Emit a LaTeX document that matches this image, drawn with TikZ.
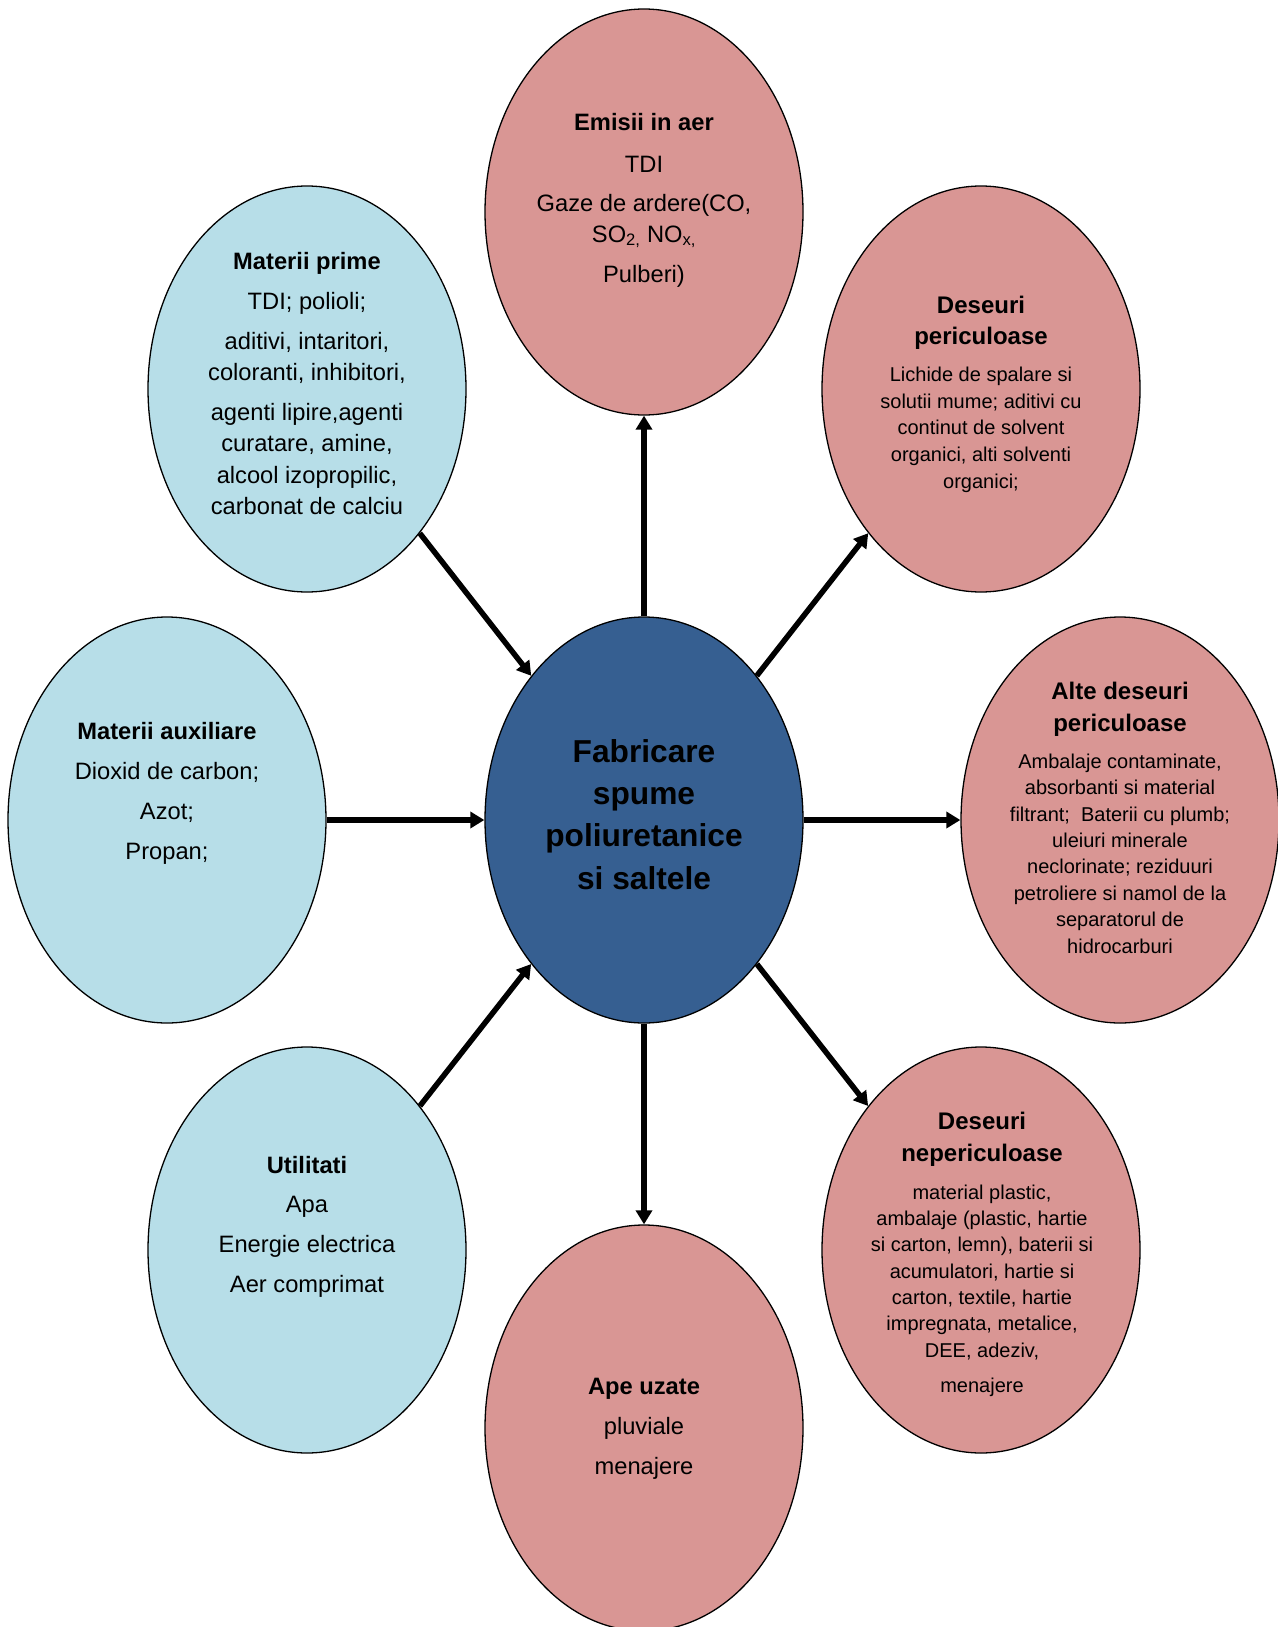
\documentclass[tikz,border=0pt]{standalone}
\usepackage{fontspec}
\setmainfont{Liberation Sans}
\usetikzlibrary{shapes.geometric,arrows.meta}
\definecolor{pinkf}{HTML}{D99694}
\definecolor{bluef}{HTML}{B7DEE8}
\definecolor{darkf}{HTML}{365F91}
\newcommand\hdr[1]{{\fontsize{24}{26}\selectfont\bfseries #1}}
\newcommand\topr[1]{\rule{0pt}{#1}}
\begin{document}
\begin{tikzpicture}[x=1pt,y=-1pt,
  ell/.style={ellipse, draw=black, line width=1.3pt, minimum width=318pt, minimum height=406pt, inner sep=0pt},
  txt/.style={align=center, anchor=north, inner sep=0pt, text=black},
  arr/.style={line width=5.5pt, -{Triangle[length=14pt,width=16pt]}}]
\useasboundingbox (0,0) rectangle (1277,1627);
% ellipses
\node[ell, fill=darkf] (c)  at (644,820)  {};
\node[ell, fill=pinkf] (em) at (644,212)  {};
\node[ell, fill=bluef] (mp) at (307,389)  {};
\node[ell, fill=pinkf] (dp) at (981,389)  {};
\node[ell, fill=bluef] (ma) at (167,820)  {};
\node[ell, fill=pinkf] (ad) at (1120,820) {};
\node[ell, fill=bluef] (ut) at (307,1250) {};
\node[ell, fill=pinkf] (dn) at (981,1250) {};
\node[ell, fill=pinkf] (au) at (644,1428) {};
% texts
\node[txt, font=\fontsize{31.7}{42.3}\selectfont\bfseries] (ct) at (644,732)
  {\topr{30pt}Fabricare\\ spume\\ poliuretanice\\ si saltele};
\node[txt, font=\fontsize{23.7}{31}\selectfont] (emt) at (644,105)
  {\topr{25pt}\textbf{Emisii in aer}\\[11pt] TDI\\[8pt] Gaze de ardere(CO,\\ SO\textsubscript{2,} NO\textsubscript{x,}\\[9pt] Pulberi)};
\node[txt, font=\fontsize{23.7}{31.3}\selectfont] (mpt) at (307,244)
  {\topr{25pt}\textbf{Materii prime}\\[8.7pt] TDI; polioli;\\[8.7pt] aditivi, intaritori,\\ coloranti, inhibitori,\\[8.7pt] agenti lipire,agenti\\ curatare, amine,\\ alcool izopropilic,\\ carbonat de calciu};
\node[txt, font=\fontsize{20}{26.8}\selectfont] (dpt) at (981,288)
  {\topr{25pt}\hdr{Deseuri}\\[4.5pt] \hdr{periculoase}\\[10pt] Lichide de spalare si\\ solutii mume; aditivi cu\\ continut de solvent\\ organici, alti solventi\\ organici;};
\node[txt, font=\fontsize{23.7}{40}\selectfont] (mat) at (167,714)
  {\topr{25pt}\textbf{Materii auxiliare}\\ Dioxid de carbon;\\ Azot;\\ Propan;};
\node[txt, font=\fontsize{20}{26.4}\selectfont] (adt) at (1120,674)
  {\topr{25pt}\hdr{Alte deseuri}\\[5.6pt] \hdr{periculoase}\\[10.6pt] Ambalaje contaminate,\\ absorbanti si material\\ filtrant;\ \ Baterii cu plumb;\\ uleiuri minerale\\ neclorinate; reziduuri\\ petroliere si namol de la\\ separatorul de\\ hidrocarburi};
\node[txt, font=\fontsize{23.7}{39.7}\selectfont] (utt) at (307,1148)
  {\topr{25pt}\textbf{Utilitati}\\ Apa\\ Energie electrica\\ Aer comprimat};
\node[txt, font=\fontsize{20}{26.3}\selectfont] (dnt) at (982,1104)
  {\topr{25pt}\hdr{Deseuri}\\[5.5pt] \hdr{nepericuloase}\\[12pt] material plastic,\\ ambalaje (plastic, hartie\\ si carton, lemn), baterii si\\ acumulatori, hartie si\\ carton, textile, hartie\\ impregnata, metalice,\\ DEE, adeziv,\\[8.7pt] menajere};
\node[txt, font=\fontsize{23.7}{40}\selectfont] (aut) at (644,1369)
  {\topr{25pt}\textbf{Ape uzate}\\ pluviale\\ menajere};
% connectors
\draw[arr] (mp) -- (c);
\draw[arr] (ma) -- (c);
\draw[arr] (ut) -- (c);
\draw[arr] (c) -- (em);
\draw[arr] (c) -- (dp);
\draw[arr] (c) -- (ad);
\draw[arr] (c) -- (dn);
\draw[arr] (c) -- (au);
\end{tikzpicture}
\end{document}
